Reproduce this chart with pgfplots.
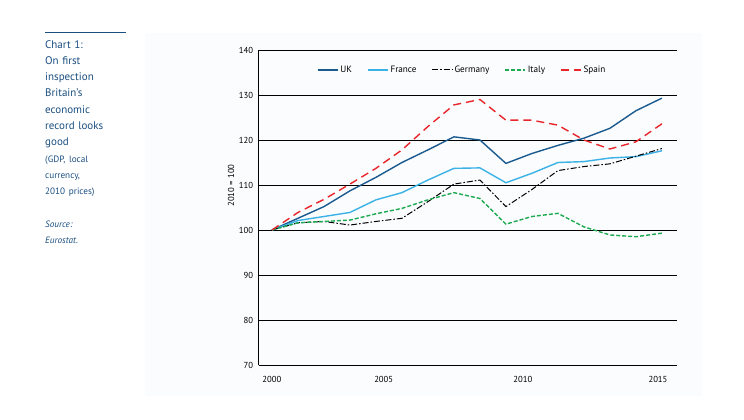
\documentclass[border=0pt]{standalone}
\usepackage{pgfplots}
\pgfplotsset{compat=1.18}
\usepackage{fontspec}
\setmainfont{PT Sans}
\definecolor{sidebar}{HTML}{1B4F80}
\definecolor{panel}{HTML}{FAFCFE}
\definecolor{ukc}{HTML}{1B5A8E}
\definecolor{frc}{HTML}{3BB2E6}
\definecolor{itc}{HTML}{1DAA50}
\definecolor{esc}{HTML}{E8262B}
\begin{document}
\begin{tikzpicture}
\fill[white] (0pt,0pt) rectangle (744pt,420pt);
\fill[panel] (145pt,24pt) rectangle (702pt,387pt);
\draw[sidebar,line width=1pt] (45pt,387pt) -- (126pt,387pt);
\node[anchor=north west,align=left,text width=95pt,inner sep=0pt,text=sidebar,font=\fontsize{11}{16.3}\selectfont] at (45pt,380pt)
{Chart 1:\\On first\\inspection\\Britain’s\\economic\\record looks\\good\\{\fontsize{9.2}{16.3}\selectfont (GDP, local}\\{\fontsize{9.2}{16.3}\selectfont currency,}\\{\fontsize{9.2}{16.3}\selectfont 2010 prices)}\\[16.3pt]{\fontsize{9.2}{16.3}\selectfont\itshape Source:}\\{\fontsize{9.2}{16.3}\selectfont\itshape Eurostat.}};
\begin{axis}[
  at={(258.7pt,55pt)}, anchor=south west,
  scale only axis, width=418pt, height=315pt,
  xmin=1999.49, xmax=2015.57, ymin=70, ymax=140,
  axis x line*=bottom, axis y line*=left,
  axis line style={black,line width=0.8pt,-},
  ytick={70,80,...,140},
  xtick={2000,2004.3,2009.65,2014.85},
  xticklabels={2000,2005,2010,2015},
  major tick length=0pt,
  ymajorgrids, grid style={black,line width=0.8pt},
  ticklabel style={font=\fontsize{8.7}{10}\selectfont},
  xticklabel style={yshift=-8pt},
  yticklabel style={xshift=-2pt},
  /pgf/number format/assume math mode=true,
  ylabel={2010 = 100},
  ylabel style={font=\fontsize{8.7}{10}\selectfont, at={(axis description cs:-0.066,0.57)}, anchor=center},
  legend columns=5,
  legend style={draw=none, fill=none, at={(axis description cs:0.487,0.937)}, anchor=center,
    font=\fontsize{9.2}{10}\selectfont, /tikz/every even column/.append style={column sep=13pt}},
  legend image code/.code={\draw[#1] (0pt,0pt) -- (20pt,0pt);},
  clip=false,
]
\addplot[ukc, line width=1.4pt] coordinates {
(2000,100) (2001,102.6) (2002,105.2) (2003,108.7) (2004,111.7) (2005,115.0) (2006,117.8) (2007,120.7)
(2008,120.0) (2009,114.8) (2010,117.0) (2011,118.8) (2012,120.4) (2013,122.6) (2014,126.5) (2015,129.3)};
\addlegendentry{UK}
\addplot[frc, line width=1.4pt] coordinates {
(2000,100) (2001,102.1) (2002,103.0) (2003,103.9) (2004,106.7) (2005,108.3) (2006,111.1) (2007,113.7)
(2008,113.8) (2009,110.5) (2010,112.6) (2011,115.0) (2012,115.2) (2013,116.0) (2014,116.3) (2015,117.6)};
\addlegendentry{France}
\addplot[black, line width=1pt, dash pattern=on 6pt off 2pt on 1.5pt off 2pt] coordinates {
(2000,100) (2001,101.6) (2002,101.9) (2003,101.1) (2004,101.9) (2005,102.6) (2006,106.3) (2007,110.2)
(2008,111.1) (2009,105.2) (2010,109.0) (2011,113.2) (2012,114.1) (2013,114.7) (2014,116.4) (2015,118.1)};
\addlegendentry{Germany}
\addplot[itc, line width=1.4pt, dash pattern=on 4pt off 2pt] coordinates {
(2000,100) (2001,101.6) (2002,101.9) (2003,102.2) (2004,103.6) (2005,104.8) (2006,106.7) (2007,108.3)
(2008,107.0) (2009,101.3) (2010,103.0) (2011,103.7) (2012,100.7) (2013,98.9) (2014,98.5) (2015,99.3)};
\addlegendentry{Italy}
\addplot[esc, line width=1.4pt, dash pattern=on 8pt off 5pt] coordinates {
(2000,100) (2001,103.9) (2002,106.8) (2003,110.2) (2004,113.7) (2005,117.8) (2006,123.0) (2007,127.8)
(2008,129.0) (2009,124.4) (2010,124.4) (2011,123.3) (2012,120.0) (2013,118.0) (2014,119.6) (2015,123.6)};
\addlegendentry{Spain}
\end{axis}
\end{tikzpicture}
\end{document}
